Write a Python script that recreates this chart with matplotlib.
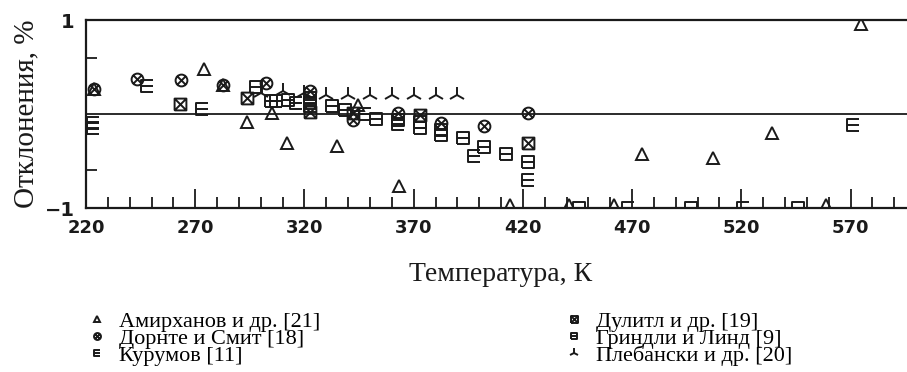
import numpy as np
import matplotlib
matplotlib.use("Agg")
import matplotlib.pyplot as plt
from matplotlib.path import Path
from matplotlib.ticker import MultipleLocator, FixedLocator

# ---- data ----
amir_t = [223.6, 273.8, 282.8, 293.5, 305.0, 311.9, 335.0, 344.6, 363.3, 413.9,
          441.1, 461.7, 474.6, 507.2, 534.0, 558.7, 575.0]
amir_d = [0.27, 0.48, 0.31, -0.09, 0.01, -0.31, -0.34, 0.10, -0.77, -0.97,
          -0.97, -0.97, -0.43, -0.47, -0.20, -0.97, 0.96]

dorn_t = [223.6, 243.2, 263.3, 282.8, 302.6, 322.5, 342.3, 362.8, 382.6, 402.2, 422.3]
dorn_d = [0.27, 0.37, 0.36, 0.31, 0.33, 0.24, -0.06, 0.01, -0.10, -0.13, 0.01]

kur_t = [223.4, 223.4, 248.1, 272.9, 307.2, 316.3, 322.5, 347.6, 362.8, 397.4,
         422.3, 468.0, 520.6, 571.2]
kur_d = [-0.10, -0.15, 0.30, 0.05, 0.14, 0.12, 0.08, 0.00, -0.11, -0.45,
         -0.70, -1.00, -1.00, -0.12]

dul_t = [262.9, 293.5, 322.5, 342.3, 372.8, 422.3]
dul_d = [0.11, 0.17, 0.02, 0.01, -0.01, -0.31]

grin_t = [298.0, 304.6, 312.5, 322.5, 322.5, 332.4, 338.4, 352.9, 362.8, 372.7,
          372.7, 382.6, 382.6, 392.6, 402.2, 412.4, 422.3, 445.7, 497.0, 545.8]
grin_d = [0.29, 0.14, 0.15, 0.17, 0.12, 0.085, 0.04, -0.05, -0.06, -0.08,
          -0.15, -0.17, -0.22, -0.26, -0.35, -0.43, -0.51, -1.00, -1.00, -1.00]

pleb_t = [300, 310, 320, 330, 340, 350, 360, 370, 380, 390]
pleb_d = [0.22, 0.24, 0.22, 0.20, 0.20, 0.20, 0.20, 0.20, 0.20, 0.20]

labels = ["Амирханов и др. [21]", "Дорнте и Смит [18]", "Курумов [11]",
          "Дулитл и др. [19]", "Гриндли и Линд [9]", "Плебански и др. [20]"]

xticks = [220, 270, 320, 370, 420, 470, 520, 570]

# ---- custom marker shapes ----
M, L = Path.MOVETO, Path.LINETO
c = Path.unit_circle()
d = 0.7
circ_x = Path(np.concatenate([c.vertices, [[-d, -d], [d, d], [-d, d], [d, -d]]]),
              np.concatenate([c.codes, [M, L, M, L]]))
sq = [[-1, -1], [1, -1], [1, 1], [-1, 1], [-1, -1]]
box_x = Path(sq + [[-1, -1], [1, 1], [-1, 1], [1, -1]], [M, L, L, L, L, M, L, M, L])
box_minus = Path(sq + [[-1, 0], [1, 0]], [M, L, L, L, L, M, L])
e_mark = Path([[1, 1], [-1, 1], [-1, -1], [1, -1], [-1, 0], [1, 0]], [M, L, L, L, M, L])

ink = "#1a1a1a"
series = [
    (amir_t, amir_d, "^", 8.5),
    (dorn_t, dorn_d, circ_x, 8.5),
    (kur_t, kur_d, e_mark, 8.5),
    (dul_t, dul_d, box_x, 8.5),
    (grin_t, grin_d, box_minus, 8.5),
    (pleb_t, pleb_d, "2", 12),
]

fig = plt.figure(figsize=(9.07, 3.72), dpi=100)
ax = fig.add_axes([86 / 907, 1 - 208 / 372, 1 - 86 / 907 + 0.01, 188 / 372])

for (t, dv, mk, ms), lab in zip(series, labels):
    ax.plot(t, dv, linestyle="none", marker=mk, markersize=ms,
            markerfacecolor="none", markeredgecolor=ink, markeredgewidth=1.4,
            color=ink, label=lab, clip_on=True)

ax.axhline(0, color=ink, lw=1.3)

ax.set_xlim(220, 600)
ax.set_ylim(-1, 1)
ax.spines["right"].set_visible(False)
for s in ["left", "top", "bottom"]:
    ax.spines[s].set_linewidth(1.6)
    ax.spines[s].set_color(ink)

ax.xaxis.set_major_locator(FixedLocator(xticks))
ax.xaxis.set_minor_locator(MultipleLocator(10))
ax.tick_params(axis="x", which="major", direction="in", length=14, width=1.3,
               pad=8, labelsize=13, colors=ink)
ax.tick_params(axis="x", which="minor", direction="in", length=8, width=1.3, colors=ink)
for lbl in ax.get_xticklabels():
    lbl.set_fontweight("bold")

ax.yaxis.set_major_locator(FixedLocator([-1, 1]))
ax.yaxis.set_major_formatter(plt.FuncFormatter(lambda v, p: "\u22121" if v < 0 else "1"))
ax.yaxis.set_minor_locator(FixedLocator([-0.6, 0.6]))
ax.tick_params(axis="y", which="major", length=0, pad=8, labelsize=14, colors=ink)
ax.tick_params(axis="y", which="minor", direction="in", length=8, width=1.3, colors=ink)
for lbl in ax.get_yticklabels():
    lbl.set_fontweight("bold")

ax.set_ylabel("Отклонения, %", family="Liberation Serif", fontsize=21, color=ink, labelpad=4)
ax.set_xlabel("Температура, К", family="Liberation Serif", fontsize=20, color=ink, labelpad=18)

leg_handles = []
for (t, dv, mk, ms), lab in zip(series, labels):
    leg_handles.append(plt.Line2D([], [], linestyle="none", marker=mk,
                                  markersize=5 if ms < 10 else 7,
                                  markerfacecolor="none", markeredgecolor=ink,
                                  markeredgewidth=1.4))
fig.legend(leg_handles, labels, ncol=2, loc="upper left",
           bbox_to_anchor=(88 / 907, 1 - 311 / 372), frameon=False,
           prop={"family": "Liberation Serif", "size": 16},
           labelspacing=-0.16, handlelength=0.8, handletextpad=0.6,
           columnspacing=11.0, borderpad=0, borderaxespad=0)

fig.savefig("out.png", dpi=100)
